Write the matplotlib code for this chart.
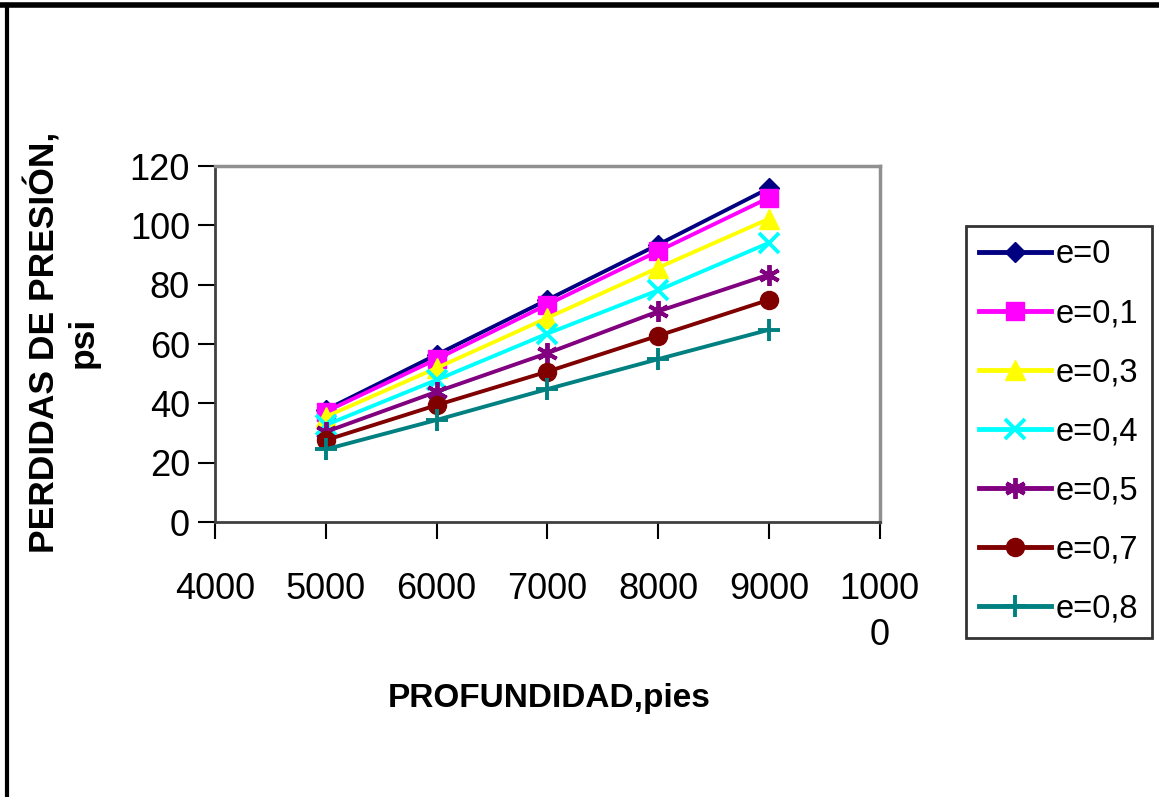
import matplotlib
matplotlib.use("Agg")
import matplotlib.pyplot as plt
from matplotlib.lines import Line2D

plt.rcParams['font.family'] = ['Liberation Sans', 'DejaVu Sans']

profundidad = [5000, 6000, 7000, 8000, 9000]
e_labels = ['e=0', 'e=0,1', 'e=0,3', 'e=0,4', 'e=0,5', 'e=0,7', 'e=0,8']
perdidas = [
    [37.8, 56.4, 74.9, 93.5, 112.5],   # e=0
    [37.2, 54.9, 73.3, 91.3, 109.3],   # e=0,1
    [35.5, 51.9, 68.8, 85.7, 102.2],   # e=0,3
    [32.7, 47.9, 63.5, 78.1, 94.1],    # e=0,4
    [30.4, 43.9, 56.9, 71.0, 83.4],    # e=0,5
    [27.6, 39.4, 50.7, 62.8, 74.9],    # e=0,7
    [24.5, 34.4, 44.8, 54.9, 64.8],    # e=0,8
]
x_ticks = [4000, 5000, 6000, 7000, 8000, 9000, 10000]
x_ticklabels = ['4000', '5000', '6000', '7000', '8000', '9000', '1000\n0']
y_ticks = [0, 20, 40, 60, 80, 100, 120]

colores = ['#000080', '#FF00FF', '#FFFF00', '#00FFFF', '#800080', '#800000', '#008080']
marcadores = ['D', 's', '^', 'x', (6, 2, 0), 'o', '+']
tamanos = [10, 13, 14, 14, 15, 13, 16]

fig = plt.figure(figsize=(11.59, 7.97), dpi=100)
ax = fig.add_axes([0.1855, 0.345, 0.5735, 0.4467])

for vals, lab, c, m, ms in zip(perdidas, e_labels, colores, marcadores, tamanos):
    ax.plot(profundidad, vals, color=c, lw=2.8, marker=m, markersize=ms,
            markeredgewidth=2.8 if m in ('x', '+', (6, 2, 0)) else 1,
            markeredgecolor=c, label=lab)

ax.set_xlim(4000, 10000)
ax.set_ylim(0, 120)
ax.set_xticks(x_ticks)
ax.set_xticklabels(x_ticklabels, linespacing=1.4)
ax.set_yticks(y_ticks)
ax.tick_params(axis='x', direction='out', length=12, width=1.5, pad=24, labelsize=26)
ax.tick_params(axis='y', direction='out', length=12, width=1.5, pad=6, labelsize=26)

for s in ('left', 'bottom'):
    ax.spines[s].set_color('#404040')
    ax.spines[s].set_linewidth(2)
for s in ('top', 'right'):
    ax.spines[s].set_color('#909090')
    ax.spines[s].set_linewidth(2.5)

fig.text(62 / 1159, 1 - 342 / 797, 'PERDIDAS DE PRESIÓN,\npsi', rotation=90,
         ha='center', va='center', multialignment='center',
         fontsize=25.5, fontweight='bold', linespacing=1.2)
fig.text(549 / 1159, 1 - 698 / 797, 'PROFUNDIDAD,pies', ha='center', va='center',
         fontsize=24, fontweight='bold')

leg = fig.legend(loc='center', bbox_to_anchor=(1059 / 1159, 1 - 432 / 797),
                 fontsize=23.5, frameon=True, fancybox=False, edgecolor='black',
                 handlelength=2.2, handletextpad=0.15, labelspacing=0.86,
                 borderpad=0.42, borderaxespad=0)
leg.get_frame().set_linewidth(2)
for h in leg.get_lines():
    h.set_linewidth(3.5)

# marco exterior de la imagen
fig.add_artist(Line2D([0, 1], [1 - 5 / 797, 1 - 5 / 797], color='black', lw=4,
                      transform=fig.transFigure))
fig.add_artist(Line2D([7 / 1159, 7 / 1159], [0, 1 - 5 / 797], color='black', lw=3,
                      transform=fig.transFigure))

fig.savefig('out.png', dpi=100)
